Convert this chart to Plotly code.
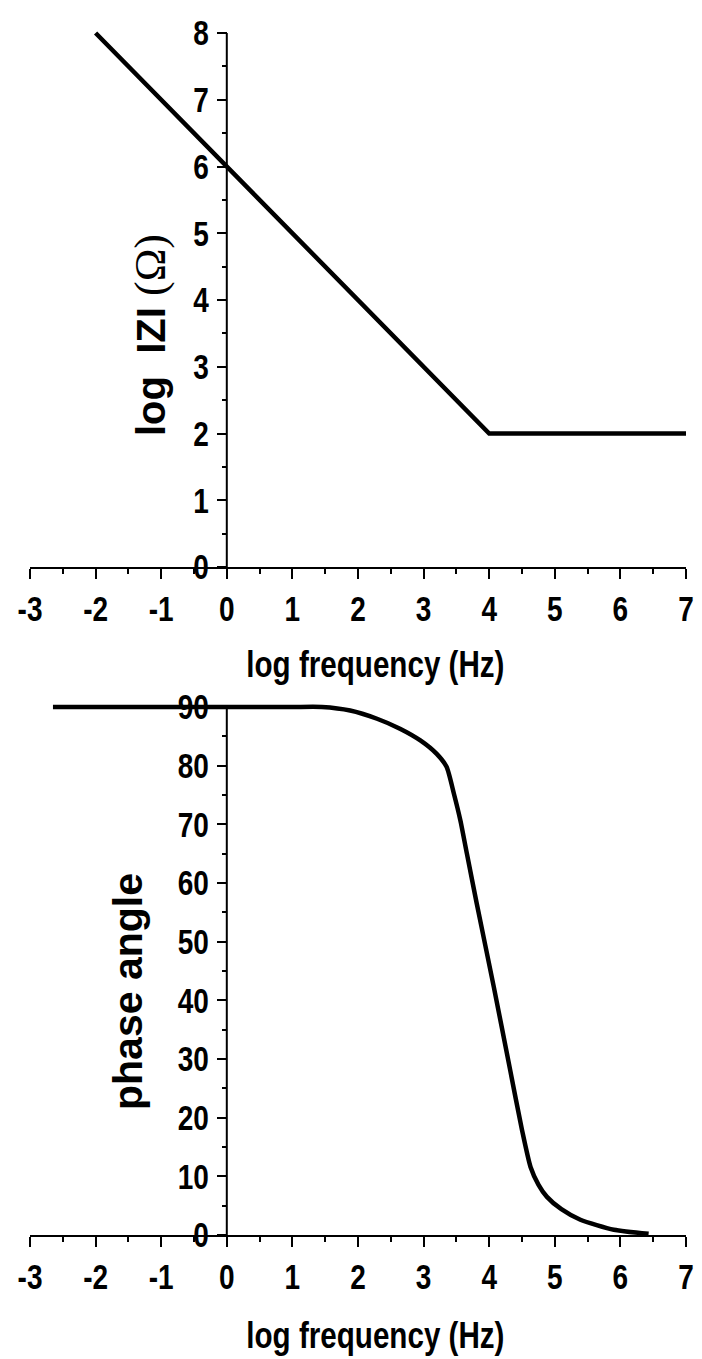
import plotly.graph_objects as go

# Bode magnitude: log|Z| vs log frequency
mag_logf = [-2.0, 4.0, 7.0]
mag_logz = [8.0, 2.0, 2.0]

# Bode phase: phase angle vs log frequency
phase_logf = [-2.65, -1.0, 0.0, 1.0, 1.45, 1.88, 2.29, 2.64, 2.95, 3.2, 3.35, 3.46,
              3.56, 3.66, 3.81, 4.07, 4.32, 4.5, 4.63, 4.75, 4.88, 5.1, 5.39, 5.9, 6.43]
phase_deg = [90.0, 90.0, 90.0, 90.0, 90.0, 89.4, 88.0, 86.3, 84.3, 82.0, 79.8, 75.3,
             70.7, 65.0, 56.5, 42.3, 28.1, 17.9, 11.6, 8.6, 6.5, 4.4, 2.6, 0.9, 0.2]

x_ticks = list(range(-3, 8))
mag_ticks = list(range(0, 9))
phase_ticks = list(range(0, 91, 10))

W, H = 702, 1359
FONT = "Liberation Sans, Arial, sans-serif"
SERIF = "Liberation Serif, Times New Roman, serif"
BLACK = "#000000"
LINE_W = 4.5
NARROW_FACTOR = 0.8   # horizontal condensing of upright labels

fig = go.Figure()
fig.add_trace(go.Scatter(x=mag_logf, y=mag_logz, mode="lines",
                         line=dict(color=BLACK, width=LINE_W),
                         xaxis="x", yaxis="y", showlegend=False))
fig.add_trace(go.Scatter(x=phase_logf, y=phase_deg, mode="lines",
                         line=dict(color=BLACK, width=LINE_W, shape="spline", smoothing=0.6),
                         xaxis="x2", yaxis="y2", showlegend=False))


def py(px):
    """pixel row (from top) -> paper fraction"""
    return 1 - px / H


# panel vertical placement
top_y8, top_y0 = 33, 567
bot_y90, bot_y0 = 707, 1235
bot_pp = (bot_y0 - bot_y90) / 90.0
bot_max = 90.8
top_pp = (top_y0 - top_y8) / 8.0
top_max = 8.06

tickfont = dict(family=FONT, size=35, color=BLACK, weight="bold")

xcommon = dict(range=[-3, 7], tickmode="array", tickvals=x_ticks,
               ticktext=[str(v) for v in x_ticks],
               showline=True, linecolor=BLACK, linewidth=2,
               ticks="outside", ticklen=10, tickwidth=2, tickcolor=BLACK,
               minor=dict(dtick=0.5, tick0=0, ticks="outside", ticklen=5,
                          tickwidth=2, tickcolor=BLACK),
               showgrid=False, zeroline=False, tickfont=tickfont,
               ticklabelstandoff=0, automargin=False, domain=[0, 1])

ycommon = dict(anchor="free", position=0.3, showline=False,
               ticks="outside", ticklen=10, tickwidth=2, tickcolor=BLACK,
               showgrid=False, zeroline=False, tickfont=tickfont,
               ticklabelstandoff=1, automargin=False)

fig.update_layout(
    width=W, height=H,
    margin=dict(l=30, r=16, t=0, b=0),
    paper_bgcolor="white", plot_bgcolor="white",
    font=dict(family=FONT, color=BLACK),
    xaxis=dict(anchor="y", **xcommon),
    xaxis2=dict(anchor="y2", **xcommon),
    yaxis=dict(range=[0, top_max],
               domain=[py(top_y0), py(top_y8 - (top_max - 8) * top_pp)],
               tickmode="array", tickvals=mag_ticks, ticktext=[str(v) for v in mag_ticks],
               minor=dict(dtick=0.5, tick0=0, ticks="outside", ticklen=5,
                          tickwidth=2, tickcolor=BLACK),
               **ycommon),
    yaxis2=dict(range=[0, bot_max],
                domain=[py(bot_y0), py(bot_y90 - (bot_max - 90) * bot_pp)],
                tickmode="array", tickvals=phase_ticks, ticktext=[str(v) for v in phase_ticks],
                minor=dict(dtick=5, tick0=0, ticks="outside", ticklen=5,
                           tickwidth=2, tickcolor=BLACK),
                **ycommon),
)

# vertical axis lines crossing at log f = 0
fig.add_shape(type="line", xref="x", yref="y", x0=0, x1=0, y0=0, y1=8,
              line=dict(color=BLACK, width=2), layer="above")
fig.add_shape(type="line", xref="x2", yref="y2", x0=0, x1=0, y0=0, y1=90,
              line=dict(color=BLACK, width=2), layer="below")

title_font = dict(family=FONT, size=37, color=BLACK)
for yc in (664, 1335):
    fig.add_annotation(text="<b>log frequency (Hz)</b>", xref="paper", yref="paper",
                       x=(375 - 30) / 656, y=py(yc), showarrow=False, font=title_font,
                       xanchor="center", yanchor="middle")

fig.add_annotation(text="<b>log</b>&nbsp; <b>IZI</b>&nbsp;"
                        f"<span style='font-family:{SERIF}; font-size:44px'>(Ω)</span>",
                   xref="paper", yref="paper",
                   x=(150 - 30) / 656, y=py(335), showarrow=False, textangle=-90,
                   font=dict(family=FONT, size=40, color=BLACK),
                   xanchor="center", yanchor="middle")
fig.add_annotation(text="<b>phase angle</b>", xref="paper", yref="paper",
                   x=(128 - 30) / 656, y=py(992), showarrow=False, textangle=-90,
                   font=dict(family=FONT, size=41, color=BLACK),
                   xanchor="center", yanchor="middle")

# condense upright tick labels and x-axis titles horizontally (narrow lettering)
condense_js = """
var gd = document.getElementById('{plot_id}');
function condense() {
  var nodes = gd.querySelectorAll('g.xtick text, g.x2tick text, g.ytick text, g.y2tick text, text.annotation-text');
  nodes.forEach(function (t) {
    if (t.classList.contains('annotation-text') && t.textContent.indexOf('frequency') < 0) return;
    if (t.getAttribute('data-narrow')) return;
    var w = t.getComputedTextLength();
    if (!w) return;
    t.setAttribute('data-narrow', '1');
    t.setAttribute('lengthAdjust', 'spacingAndGlyphs');
    t.setAttribute('textLength', (w * %s).toFixed(2));
  });
}
condense();
gd.on('plotly_afterplot', condense);
""" % NARROW_FACTOR

fig.write_html("out.html", post_script=condense_js)
